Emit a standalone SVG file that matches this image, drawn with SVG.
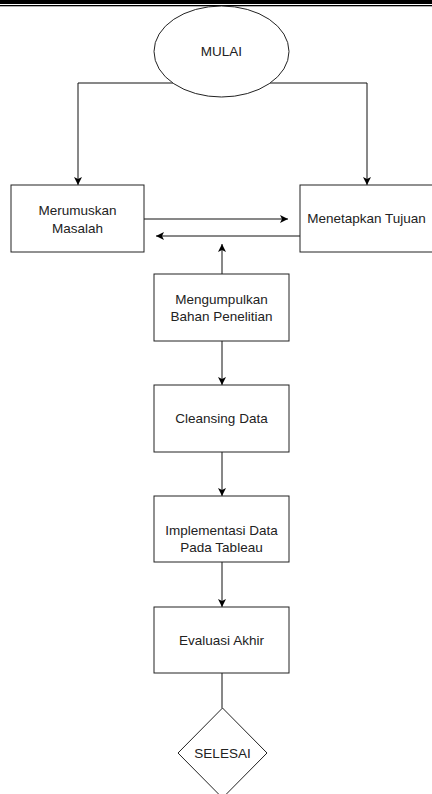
<svg xmlns="http://www.w3.org/2000/svg" width="432" height="794" viewBox="0 0 432 794">
<defs>
<marker id="arr" markerUnits="userSpaceOnUse" markerWidth="10" markerHeight="10" refX="8" refY="4" orient="auto">
<path d="M0,0 L8,4 L0,8 L2,4 z" fill="#000"/>
</marker>
<style>
.box{fill:#fff;stroke:#222;stroke-width:1}
.ln{fill:none;stroke:#111;stroke-width:1}
.t{font-family:"Liberation Sans",Arial,sans-serif;font-size:13.5px;fill:#222;text-anchor:middle}
</style>
</defs>
<rect x="0" y="0" width="432" height="4" fill="#000"/>
<rect x="0" y="5" width="432" height="1.3" fill="#000"/>
<g id="connectors">
<polyline class="ln" points="221,83 78,83 78,185" marker-end="url(#arr)"/>
<polyline class="ln" points="221,83 367,83 367,185" marker-end="url(#arr)"/>
<line class="ln" x1="144" y1="219" x2="288" y2="219" marker-end="url(#arr)"/>
<line class="ln" x1="300" y1="236" x2="156" y2="236" marker-end="url(#arr)"/>
<line class="ln" x1="222" y1="274" x2="222" y2="244" marker-end="url(#arr)"/>
<line class="ln" x1="222" y1="341" x2="222" y2="385" marker-end="url(#arr)"/>
<line class="ln" x1="222" y1="452" x2="222" y2="496" marker-end="url(#arr)"/>
<line class="ln" x1="222" y1="562" x2="222" y2="607" marker-end="url(#arr)"/>
<line class="ln" x1="222" y1="673" x2="222" y2="708"/>
</g>
<g id="mulai">
<ellipse class="box" cx="221.5" cy="51.5" rx="67.5" ry="45.5"/>
<text class="t" x="221.5" y="56">MULAI</text>
</g>
<g id="merumuskan">
<rect class="box" x="11" y="185" width="133" height="67"/>
<text class="t" x="77.5" y="215">Merumuskan</text>
<text class="t" x="77.5" y="233">Masalah</text>
</g>
<g id="menetapkan">
<rect class="box" x="300" y="185" width="134" height="67"/>
<text class="t" x="366.5" y="223">Menetapkan Tujuan</text>
</g>
<g id="mengumpulkan">
<rect class="box" x="154" y="274" width="135" height="67"/>
<text class="t" x="221.5" y="304">Mengumpulkan</text>
<text class="t" x="221.5" y="321">Bahan Penelitian</text>
</g>
<g id="cleansing">
<rect class="box" x="154" y="385" width="135" height="67"/>
<text class="t" x="221.5" y="423">Cleansing Data</text>
</g>
<g id="implementasi">
<rect class="box" x="154" y="496" width="135" height="66"/>
<text class="t" x="221.5" y="535">Implementasi Data</text>
<text class="t" x="221.5" y="552">Pada Tableau</text>
</g>
<g id="evaluasi">
<rect class="box" x="154" y="607" width="135" height="66"/>
<text class="t" x="221.5" y="645">Evaluasi Akhir</text>
</g>
<g id="selesai">
<polygon class="box" points="222.5,708 267,753 222.5,798 178,753"/>
<text class="t" x="222.5" y="758">SELESAI</text>
</g>
</svg>
